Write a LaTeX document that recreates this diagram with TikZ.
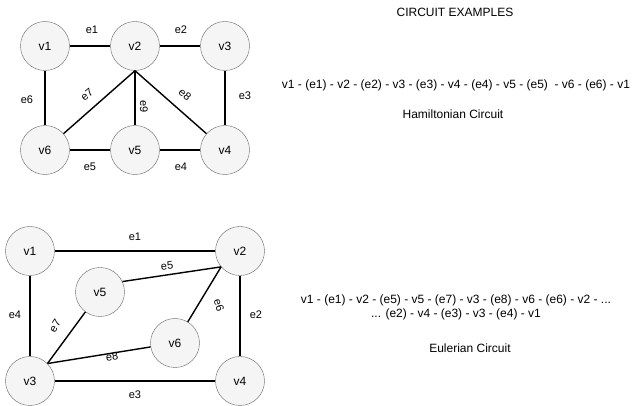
\documentclass[tikz,border=0pt]{standalone}
\usepackage{fontspec}
\setmainfont{Liberation Sans}
\usepackage{xcolor}
\definecolor{cFill}{HTML}{F5F5F5}
\definecolor{cLine}{HTML}{666666}
\definecolor{cEdge}{HTML}{000000}
\definecolor{cText}{HTML}{000000}
\usetikzlibrary{positioning}
\tikzset{
  node-vertex/.style={draw=cLine,fill=cFill,circle,minimum size=49pt,
    inner sep=0pt,font=\fontsize{12}{14}\selectfont,text=cText},
  edge-line/.style={draw=cEdge,line width=1.4pt},
  edge-label/.style={font=\fontsize{11}{13}\selectfont,inner sep=0pt,text=cText},
  text-plain/.style={font=\fontsize{12}{14}\selectfont,align=center,text=cText},
}

\begin{document}
\begin{tikzpicture}[x=1pt,y=-1pt]
  \useasboundingbox (0,0) rectangle (641,406);
  % Hamiltonian graph
  \node[node-vertex] (h1) at (45,46)  {v1};
  \node[node-vertex] (h2) at (135,46) {v2};
  \node[node-vertex] (h3) at (225,46) {v3};
  \node[node-vertex] (h6) at (45,150) {v6};
  \node[node-vertex] (h5) at (135,150) {v5};
  \node[node-vertex] (h4) at (225,150) {v4};
  \draw[edge-line] (h1) -- (h2);
  \draw[edge-line] (h2) -- (h3);
  \draw[edge-line] (h3) -- (h4);
  \draw[edge-line] (h4) -- (h5);
  \draw[edge-line] (h5) -- (h6);
  \draw[edge-line] (h6) -- (h1);
  \draw[edge-line] (h2.south) -- (h6);
  \draw[edge-line] (h2.south) -- (h4);
  \draw[edge-line] (h2.south) -- (h5);
  \node[edge-label] (he1) at (92,30)  {e1};
  \node[edge-label] (he2) at (181,30) {e2};
  \node[edge-label] (he3) at (245,96) {e3};
  \node[edge-label] (he4) at (181,167) {e4};
  \node[edge-label] (he5) at (90,167) {e5};
  \node[edge-label] (he6) at (27,100) {e6};
  \node[edge-label,rotate=40]  (he7) at (87,95)  {e7};
  \node[edge-label,rotate=-40] (he8) at (185,95) {e8};
  \node[edge-label,rotate=-90] (he9) at (144,107) {e9};

  % Eulerian graph
  \node[node-vertex] (u1) at (30,251)  {v1};
  \node[node-vertex] (u2) at (240,251) {v2};
  \node[node-vertex] (u3) at (30,381)  {v3};
  \node[node-vertex] (u4) at (240,381) {v4};
  \node[node-vertex] (u5) at (100,292) {v5};
  \node[node-vertex] (u6) at (175,343) {v6};
  \draw[edge-line] (u1) -- (u2);
  \draw[edge-line] (u2) -- (u4);
  \draw[edge-line] (u3) -- (u4);
  \draw[edge-line] (u1) -- (u3);
  \draw[edge-line] (u5.25) -- (u2.220);
  \draw[edge-line] (u6) -- (u2.220);
  \draw[edge-line] (u3.45) -- (u5);
  \draw[edge-line] (u3.45) -- (u6);
  \node[edge-label] (ue1) at (135,237) {e1};
  \node[edge-label] (ue2) at (256,315) {e2};
  \node[edge-label] (ue3) at (135,395) {e3};
  \node[edge-label] (ue4) at (15,315)  {e4};
  \node[edge-label,rotate=8]   (ue5) at (167,266) {e5};
  \node[edge-label,rotate=-72] (ue6) at (219,305) {e6};
  \node[edge-label,rotate=58]  (ue7) at (55,326)  {e7};
  \node[edge-label,rotate=10]  (ue8) at (112,357) {e8};

  % texts
  \node[text-plain] (title) at (455,12) {CIRCUIT EXAMPLES};
  \node[text-plain] (hpath) at (456,85)
    {v1 - (e1) - v2 - (e2) - v3 - (e3) - v4 - (e4) - v5 - (e5)\ \ - v6 - (e6) - v1};
  \node[text-plain] (hname) at (453,114) {Hamiltonian Circuit};
  \node[text-plain] (epath) at (456,307)
    {v1 - (e1) - v2 - (e5) - v5 - (e7) - v3 - (e8) - v6 - (e6) - v2 - ...\\
     ... (e2) - v4 - (e3) - v3 - (e4) - v1};
  \node[text-plain] (ename) at (470,348) {Eulerian Circuit};
\end{tikzpicture}
\end{document}
